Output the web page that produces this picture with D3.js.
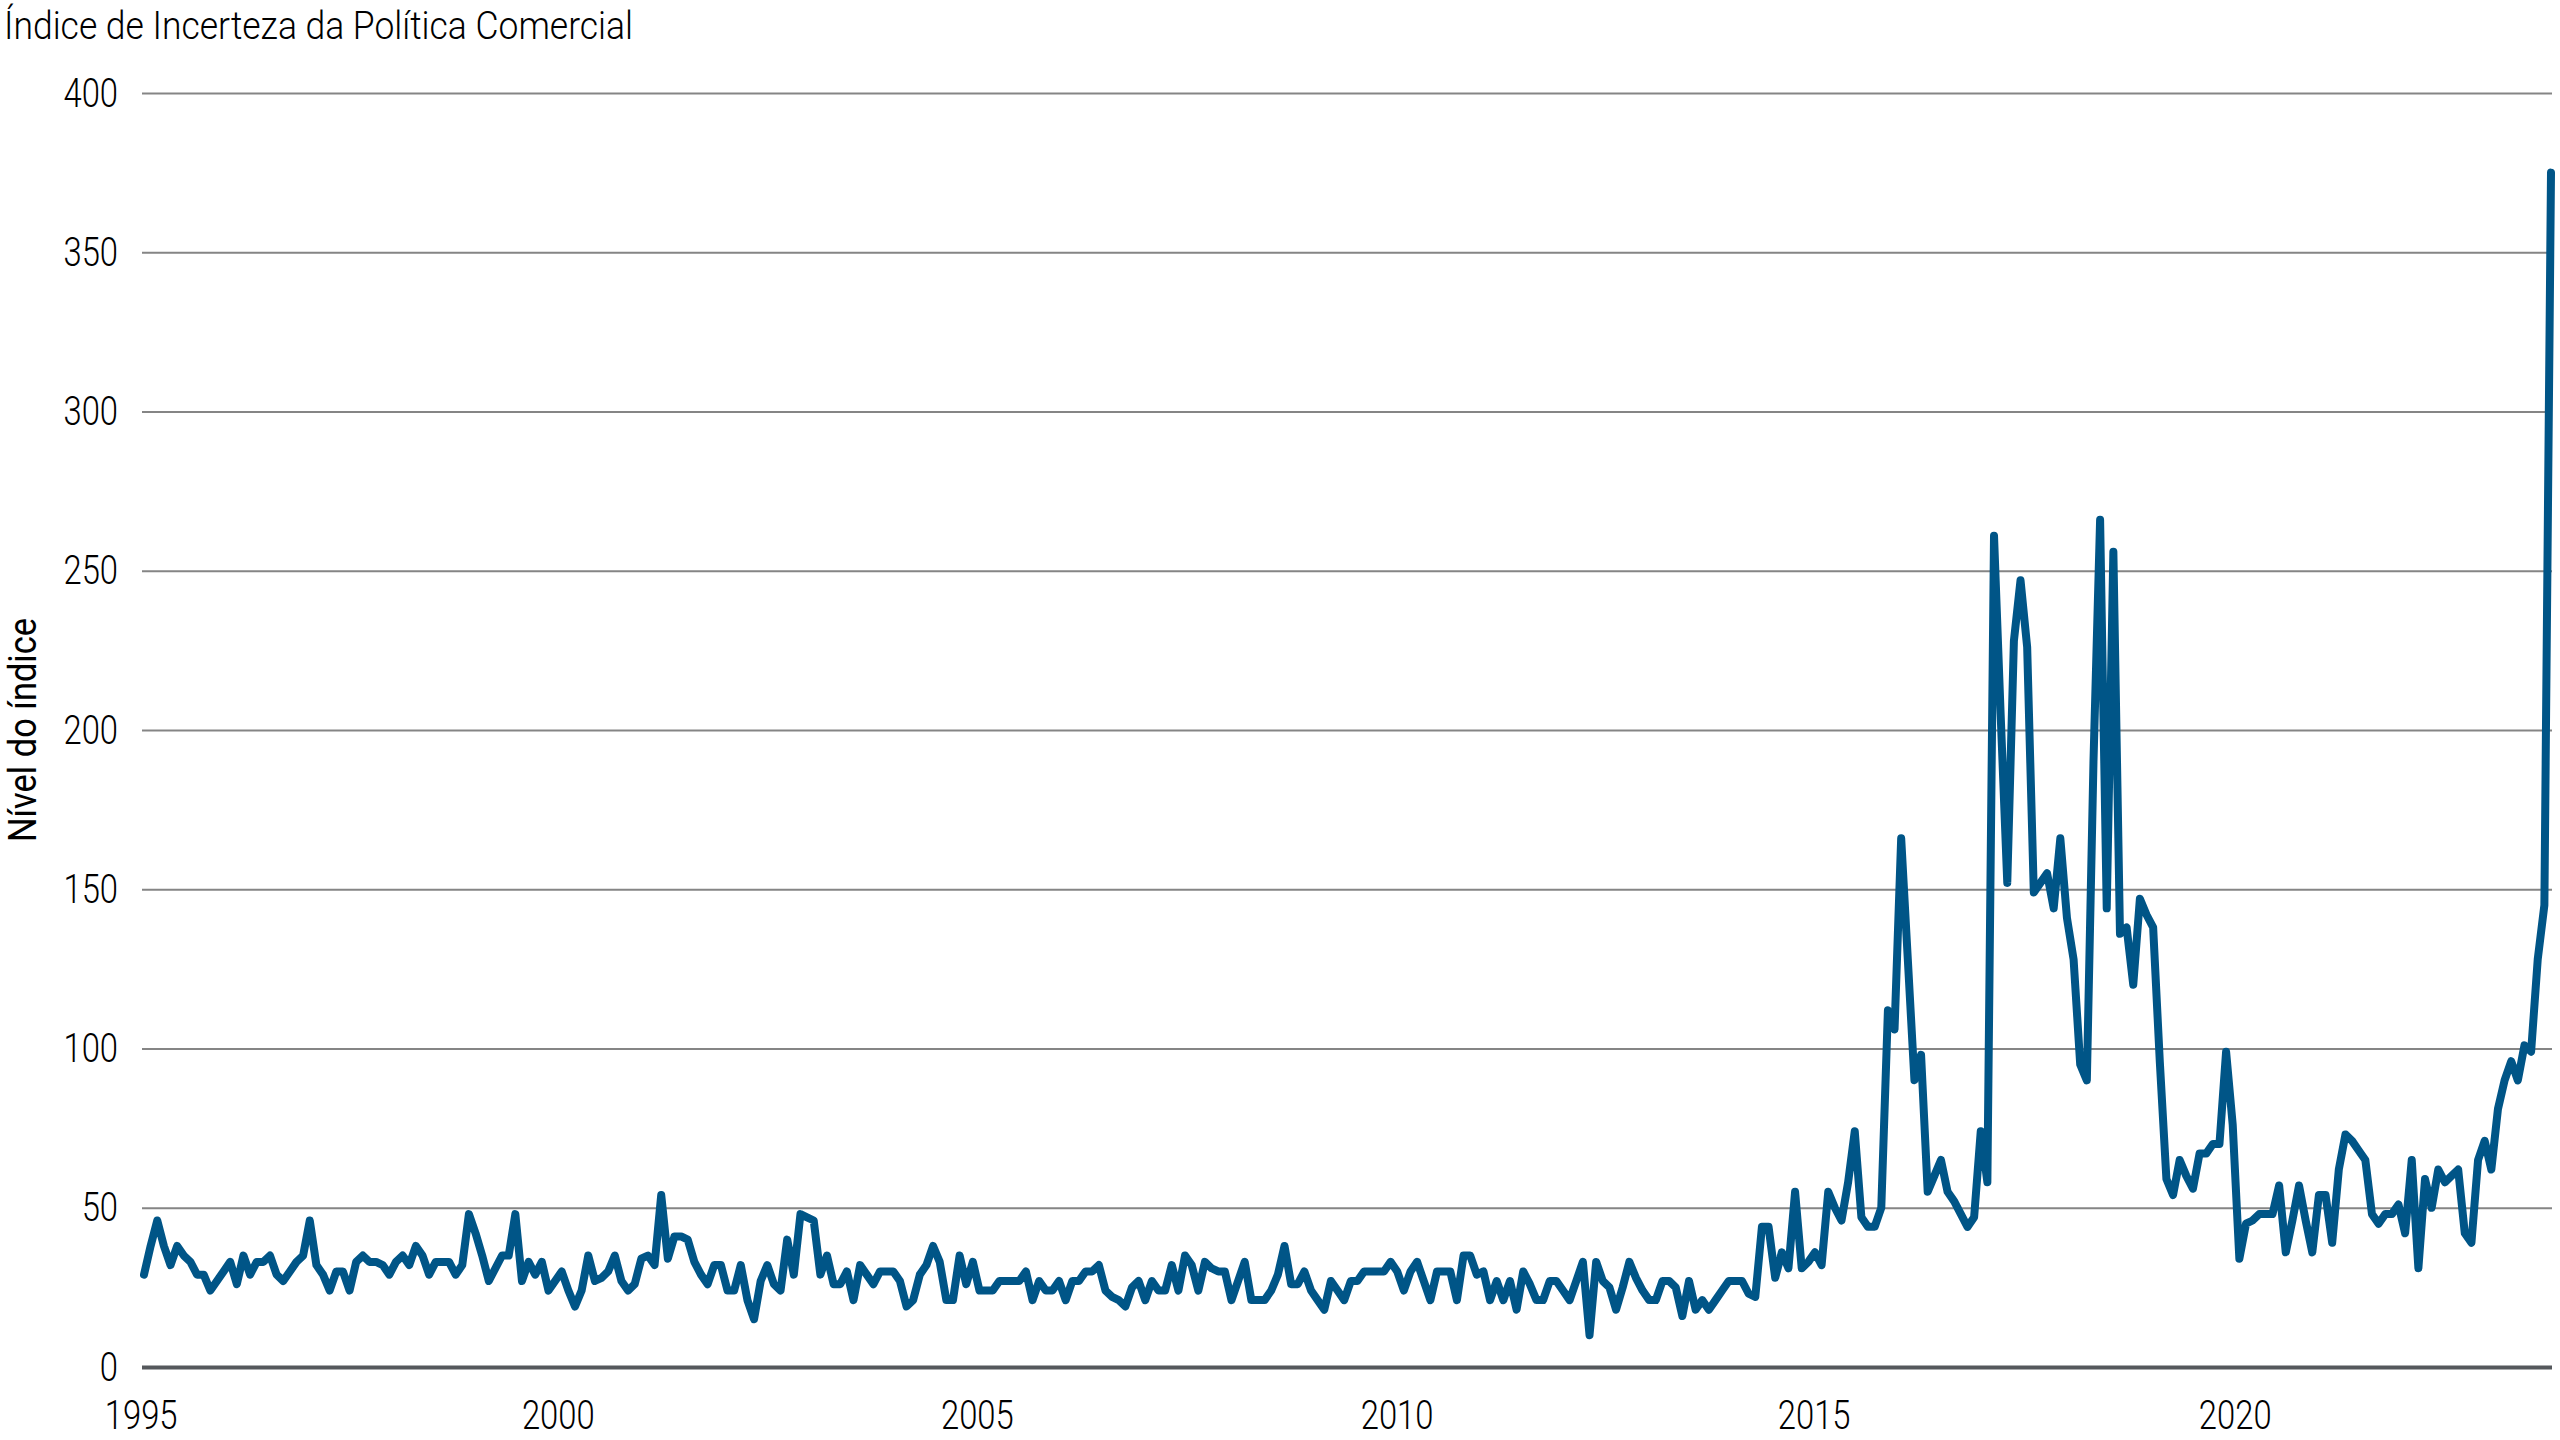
<!DOCTYPE html>
<html lang="pt">
  <head>
    <meta charset="UTF-8"/>
    <title>Índice de Incerteza da Política Comercial</title>
    <script src="https://d3js.org/d3.v7.min.js"></script>
    <style>
      body { margin: 0; background: #fff; }
      text {
        font-family: Roboto, "Liberation Sans", sans-serif;
        fill: #000;
      }
      .title { font-size: 39px; font-weight: 300; }
      .axis text {
        font-size: 41px;
        font-weight: 300;
        transform-box: fill-box;
        transform: scaleX(0.8);
      }
      .y-axis text { transform-origin: right center; }
      .x-axis text { transform-origin: center center; }
      .axis-label { font-size: 39px; }
      .axis .domain { display: none; }
    </style>
  </head>
  <body>
    <script>

      // monthly index values, Jan 1995 .. Apr 2025
      const tpu = [
        29, 38, 46, 38, 32, 38, 35, 33, 29, 29, 24, 27,
        30, 33, 26, 35, 29, 33, 33, 35, 29, 27, 30, 33,
        35, 46, 32, 29, 24, 30, 30, 24, 33, 35, 33, 33,
        32, 29, 33, 35, 32, 38, 35, 29, 33, 33, 33, 29,
        32, 48, 42, 35, 27, 31, 35, 35, 48, 27, 33, 29,
        33, 24, 27, 30, 24, 19, 24, 35, 27, 28, 30, 35,
        27, 24, 26, 34, 35, 32, 54, 34, 41, 41, 40, 33,
        29, 26, 32, 32, 24, 24, 32, 21, 15, 27, 32, 26,
        24, 40, 29, 48, 47, 46, 29, 35, 26, 26, 30, 21,
        32, 29, 26, 30, 30, 30, 27, 19, 21, 29, 32, 38,
        33, 21, 21, 35, 26, 33, 24, 24, 24, 27, 27, 27,
        27, 30, 21, 27, 24, 24, 27, 21, 27, 27, 30, 30,
        32, 24, 22, 21, 19, 25, 27, 21, 27, 24, 24, 32,
        24, 35, 32, 24, 33, 31, 30, 30, 21, 27, 33, 21,
        21, 21, 24, 29, 38, 26, 26, 30, 24, 21, 18, 27,
        24, 21, 27, 27, 30, 30, 30, 30, 33, 30, 24, 30,
        33, 27, 21, 30, 30, 30, 21, 35, 35, 29, 30, 21,
        27, 21, 27, 18, 30, 26, 21, 21, 27, 27, 24, 21,
        27, 33, 10, 33, 27, 25, 18, 25, 33, 28, 24, 21,
        21, 27, 27, 25, 16, 27, 18, 21, 18, 21, 24, 27,
        27, 27, 23, 22, 44, 44, 28, 36, 31, 55, 31, 33,
        36, 32, 55, 50, 46, 58, 74, 47, 44, 44, 50, 112,
        106, 166, 128, 90, 98, 55, 60, 65, 55, 52, 48, 44,
        47, 74, 58, 261, 205, 152, 228, 247, 226, 149, 152, 155,
        144, 166, 141, 128, 95, 90, 190, 266, 144, 256, 136, 138,
        120, 147, 142, 138, 96, 59, 54, 65, 60, 56, 67, 67,
        70, 70, 99, 76, 34, 45, 46, 48, 48, 48, 57, 36,
        46, 57, 46, 36, 54, 54, 39, 62, 73, 71, 68, 65,
        48, 45, 48, 48, 51, 42, 65, 31, 59, 50, 62, 58,
        60, 62, 42, 39, 65, 71, 62, 81, 90, 96, 90, 101,
        99, 128, 145, 375
      ]

      const yearLabels = ["1995", "2000", "2005", "2010", "2015", "2020"]
      // where each year label sits, in units of the monthly index
      const yearLabelAt = [-0.5, 62.4, 125.6, 188.9, 251.8, 315.3]
      const yTicks = [0, 50, 100, 150, 200, 250, 300, 350, 400]

      const titleText = "Índice de Incerteza da Política Comercial"
      const yLabelText = "Nível do índice"

      const outerWidth = 2560,
            outerHeight = 1440,
            margin = ({top: 93, right: 8, bottom: 73, left: 142})

      const svg = d3.select("body").append("svg")
          .attr("width", outerWidth)
          .attr("height", outerHeight)

      const xScale = d3.scaleLinear()
          .domain([0, tpu.length - 1])
          .range([margin.left + 2, outerWidth - margin.right - 1])

      const yScale = d3.scaleLinear()
          .domain([0, 400])
          .range([outerHeight - margin.bottom, margin.top])

      // gridlines + y tick labels
      svg.append("g")
          .attr("class", "axis y-axis")
          .attr("transform", `translate(${margin.left},0)`)
          .call(d3.axisLeft(yScale)
              .tickValues(yTicks)
              .tickSize(-(outerWidth - margin.right - margin.left))
              .tickPadding(24))
          .call(g => g.selectAll(".tick line")
              .attr("stroke", "#858585")
              .attr("stroke-width", 2))
          .call(g => g.selectAll(".tick")
              .filter(d => d === 0)
              .select("line")
              .attr("stroke", "#55585c")
              .attr("stroke-width", 4))

      // x labels
      svg.append("g")
          .attr("class", "axis x-axis")
          .attr("transform", `translate(0,${yScale(0)})`)
          .call(d3.axisBottom(xScale)
              .tickValues(yearLabelAt)
              .tickFormat((d, i) => yearLabels[i])
              .tickSize(0)
              .tickPadding(33))

      const line = d3.line()
          .x((d, i) => xScale(i))
          .y(d => yScale(d))

      svg.append("path")
          .datum(tpu)
          .attr("fill", "none")
          .attr("stroke", "#005587")
          .attr("stroke-width", 8)
          .attr("stroke-linejoin", "round")
          .attr("stroke-linecap", "round")
          .attr("d", line)

      svg.append("text")
          .attr("class", "title")
          .attr("x", 4)
          .attr("y", 39)
          .attr("textLength", 629)
          .attr("lengthAdjust", "spacingAndGlyphs")
          .text(titleText)

      svg.append("text")
          .attr("class", "axis-label")
          .attr("transform", `translate(36,${(yScale(0) + yScale(400)) / 2}) rotate(-90)`)
          .attr("x", -112)
          .attr("textLength", 224)
          .attr("lengthAdjust", "spacingAndGlyphs")
          .text(yLabelText)

    </script>
  </body>
</html>
